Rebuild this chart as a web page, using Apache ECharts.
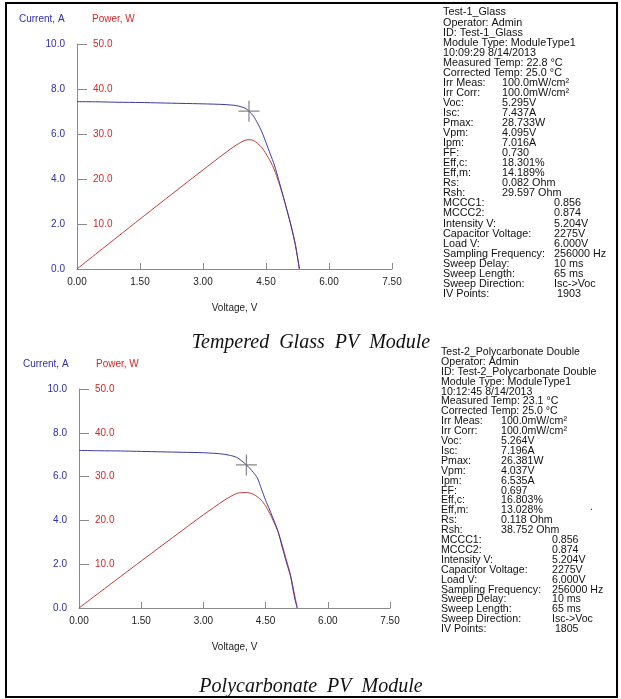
<!DOCTYPE html>
<html>
<head>
<meta charset="utf-8">
<script src="https://cdn.jsdelivr.net/npm/echarts@6/dist/echarts.min.js"></script>
<style>html,body{margin:0;padding:0;background:#fff;}#c{width:621px;height:699px;}</style>
</head>
<body>
<div id="c"></div>
<script>
// ---- data: Tempered glass module ----
var glassVoltage = [0, 0.5, 1.0, 1.5, 2.0, 2.5, 3.0, 3.5, 3.8, 4.0, 4.095, 4.2, 4.3, 4.4, 4.5, 4.6, 4.7, 4.8, 4.9, 5.0, 5.1, 5.2, 5.295];
var glassCurrent = [7.437, 7.43, 7.41, 7.40, 7.38, 7.36, 7.34, 7.31, 7.26, 7.15, 7.016, 6.80, 6.48, 6.10, 5.62, 5.12, 4.62, 3.97, 3.30, 2.60, 1.88, 1.05, 0];
var glassPower   = [0, 3.72, 7.41, 11.10, 14.76, 18.40, 22.02, 25.6, 27.6, 28.6, 28.733, 28.56, 27.9, 27.0, 25.6, 24.0, 22.0, 19.4, 16.4, 13.1, 9.6, 5.5, 0];
var glassMpp = [4.095, 7.016];
// ---- data: Polycarbonate module ----
var polyVoltage = [0, 0.5, 1.0, 1.5, 2.0, 2.5, 3.0, 3.5, 3.8, 4.037, 4.2, 4.3, 4.4, 4.5, 4.6, 4.7, 4.8, 4.9, 5.0, 5.1, 5.2, 5.264];
var polyCurrent = [7.196, 7.18, 7.17, 7.15, 7.13, 7.11, 7.09, 7.02, 6.88, 6.535, 6.20, 5.95, 5.43, 4.92, 4.47, 4.00, 3.50, 2.78, 2.10, 1.45, 0.45, 0];
var polyPower   = [0, 3.59, 7.17, 10.73, 14.26, 17.78, 21.27, 24.57, 26.14, 26.381, 26.0, 25.4, 24.6, 23.3, 21.6, 19.6, 17.4, 14.4, 11.0, 7.6, 3.0, 0];
var polyMpp = [4.037, 6.535];
// ---- axis ticks ----
var voltageTicks = [0, 1.5, 3.0, 4.5, 6.0, 7.5];
var currentTicks = [0, 2, 4, 6, 8, 10];
var powerTicks = [0, 10, 20, 30, 40, 50];
// ---- text panels ----
var glassHeader = ['Test-1_Glass', 'Operator: Admin', 'ID: Test-1_Glass', 'Module Type: ModuleType1', '10:09:29 8/14/2013', 'Measured Temp: 22.8 \u00b0C', 'Corrected Temp: 25.0 \u00b0C'];
var polyHeader = ['Test-2_Polycarbonate Double', 'Operator: Admin', 'ID: Test-2_Polycarbonate Double', 'Module Type: ModuleType1', '10:12:45 8/14/2013', 'Measured Temp: 23.1 \u00b0C', 'Corrected Temp: 25.0 \u00b0C'];
var paramLabels1 = ['Irr Meas:', 'Irr Corr:', 'Voc:', 'Isc:', 'Pmax:', 'Vpm:', 'Ipm:', 'FF:', 'Eff,c:', 'Eff,m:', 'Rs:', 'Rsh:'];
var glassValues1 = ['100.0mW/cm\u00b2', '100.0mW/cm\u00b2', '5.295V', '7.437A', '28.733W', '4.095V', '7.016A', '0.730', '18.301%', '14.189%', '0.082 Ohm', '29.597 Ohm'];
var polyValues1 = ['100.0mW/cm\u00b2', '100.0mW/cm\u00b2', '5.264V', '7.196A', '26.381W', '4.037V', '6.535A', '0.697', '16.803%', '13.028%', '0.118 Ohm', '38.752 Ohm'];
var paramLabels2 = ['MCCC1:', 'MCCC2:', 'Intensity V:', 'Capacitor Voltage:', 'Load V:', 'Sampling Frequency:', 'Sweep Delay:', 'Sweep Length:', 'Sweep Direction:', 'IV Points:'];
var glassValues2 = ['0.856', '0.874', '5.204V', '2275V', '6.000V', '256000 Hz', '10 ms', '65 ms', 'Isc->Voc', ' 1903'];
var polyValues2 = ['0.856', '0.874', '5.204V', '2275V', '6.000V', '256000 Hz', '10 ms', '65 ms', 'Isc->Voc', ' 1805'];
var captions = ['Tempered  Glass  PV  Module', 'Polycarbonate  PV  Module'];

var BLUE = '#2f2fa6', RED = '#cc2b2b', CURVE_BLUE = '#3a3a9c', CURVE_RED = '#c23a3a', AXIS = '#8a8a8a';
var FONT = 'Liberation Sans, Arial, sans-serif';

function zip(a, b) { return a.map(function (v, i) { return [v, b[i]]; }); }

var chart = echarts.init(document.getElementById('c'), null, { renderer: 'canvas' });

var grids = [
  { left: 77, top: 44, width: 315, height: 225 },
  { left: 79, top: 389, width: 311, height: 219 }
];

function xAx(gi) {
  return {
    type: 'value', gridIndex: gi, min: voltageTicks[0], max: voltageTicks[voltageTicks.length - 1], interval: voltageTicks[1] - voltageTicks[0],
    axisLine: { lineStyle: { color: AXIS, width: 1 } },
    axisTick: { inside: true, length: 6, lineStyle: { color: AXIS } },
    axisLabel: { color: '#222', fontFamily: FONT, fontSize: 10, margin: 8, formatter: function (v) { return v.toFixed(2); } },
    splitLine: { show: false },
    name: 'Voltage, V', nameLocation: 'middle', nameGap: 34,
    nameTextStyle: { color: '#222', fontFamily: FONT, fontSize: 10 }
  };
}
function yCur(gi) {
  return {
    type: 'value', gridIndex: gi, position: 'left', min: currentTicks[0], max: currentTicks[currentTicks.length - 1], interval: currentTicks[1] - currentTicks[0],
    axisLine: { show: true, lineStyle: { color: AXIS, width: 1 } },
    axisTick: { show: true, inside: true, length: 10, lineStyle: { color: AXIS } },
    axisLabel: { color: BLUE, fontFamily: FONT, fontSize: 10, margin: 12, formatter: function (v) { return v.toFixed(1); } },
    splitLine: { show: false }
  };
}
function yPow(gi) {
  return {
    type: 'value', gridIndex: gi, position: 'left', min: powerTicks[0], max: powerTicks[powerTicks.length - 1], interval: powerTicks[1] - powerTicks[0],
    axisLine: { show: false }, axisTick: { show: false },
    axisLabel: { inside: true, showMinLabel: false, color: RED, fontFamily: FONT, fontSize: 10, margin: 16,
      formatter: function (v) { return v === 0 ? '' : v.toFixed(1); } },
    splitLine: { show: false }
  };
}

var crossPath = 'path://M0,9.4H20V10.6H0Z M9.4,0H10.6V20H9.4Z';

function curveSeries(gi, volt, cur, pow, mpp) {
  return [
    { type: 'line', xAxisIndex: gi, yAxisIndex: gi * 2 + 1, data: zip(volt, pow), showSymbol: false, smooth: 0.25, lineStyle: { color: CURVE_RED, width: 1 }, silent: true, z: 2 },
    { type: 'line', xAxisIndex: gi, yAxisIndex: gi * 2, data: zip(volt, cur), showSymbol: false, smooth: 0.25, lineStyle: { color: CURVE_BLUE, width: 1 }, silent: true, z: 3 },
    { type: 'scatter', xAxisIndex: gi, yAxisIndex: gi * 2, data: [mpp], symbol: crossPath, symbolSize: 21, itemStyle: { color: '#6a6a6a' }, silent: true, z: 4 }
  ];
}

var graphics = [];
function txt(x, y, s, opts) {
  opts = opts || {};
  graphics.push({
    type: 'text', x: x, y: y, silent: true,
    style: { text: s, fill: opts.fill || '#111', font: opts.font || ('10px ' + FONT), align: opts.align || 'left', verticalAlign: 'middle' }
  });
}
function panel(x0, col1, col2, y0, dy, fontPx, header, values1, values2) {
  var row = 0, f = { font: fontPx + 'px ' + FONT };
  header.forEach(function (s) { txt(x0, y0 + dy * row, s, f); row++; });
  paramLabels1.forEach(function (s, i) { txt(x0, y0 + dy * row, s, f); txt(col1, y0 + dy * row, values1[i], f); row++; });
  paramLabels2.forEach(function (s, i) { txt(x0, y0 + dy * row, s, f); txt(col2, y0 + dy * row, values2[i], f); row++; });
}
panel(443, 502, 554, 12.5, 10.05, 10.8, glassHeader, glassValues1, glassValues2);
panel(441, 501, 552, 352, 9.9, 10.6, polyHeader, polyValues1, polyValues2);
txt(590, 507, '.', {});

// axis headers
txt(19, 19, 'Current, A', { fill: BLUE });
txt(92, 19, 'Power, W', { fill: RED });
txt(23, 364, 'Current, A', { fill: BLUE });
txt(96, 364, 'Power, W', { fill: RED });
// captions
txt(311, 343, captions[0], { font: 'italic 20px Liberation Serif, Times New Roman, serif', fill: '#111', align: 'center' });
txt(311, 687, captions[1], { font: 'italic 20px Liberation Serif, Times New Roman, serif', fill: '#111', align: 'center' });
// frame
graphics.push({ type: 'rect', silent: true, shape: { x: 6, y: 3, width: 611, height: 694 }, style: { fill: 'none', stroke: '#000', lineWidth: 2 }, z: 10 });

chart.setOption({
  animation: false,
  backgroundColor: '#fff',
  grid: grids,
  xAxis: [xAx(0), xAx(1)],
  yAxis: [yCur(0), yPow(0), yCur(1), yPow(1)],
  series: curveSeries(0, glassVoltage, glassCurrent, glassPower, glassMpp).concat(curveSeries(1, polyVoltage, polyCurrent, polyPower, polyMpp)),
  graphic: graphics
});
</script>
</body>
</html>
